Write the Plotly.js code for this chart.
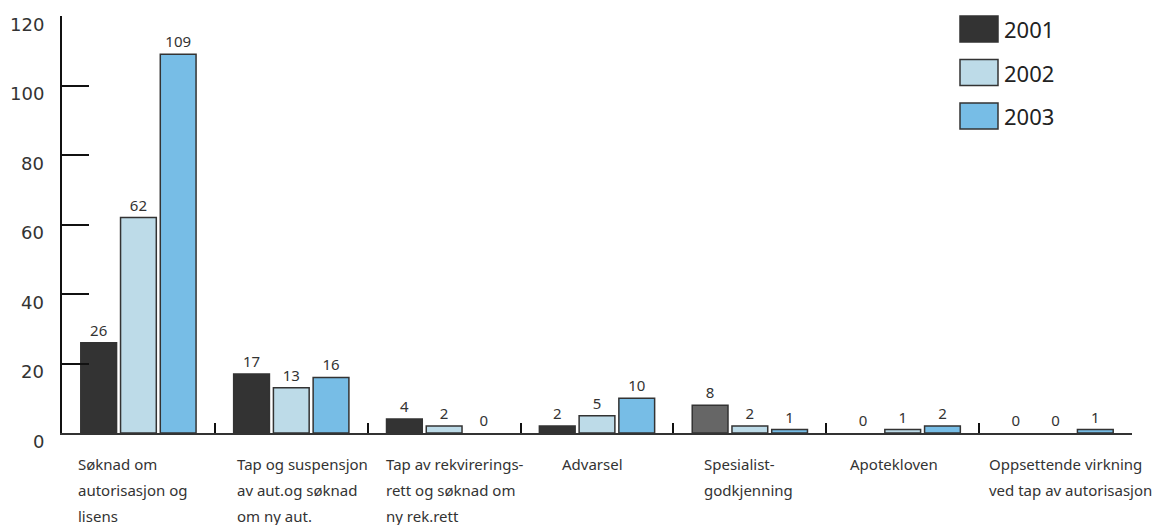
<!DOCTYPE html>
<html>
<head>
<meta charset="utf-8">
<script src="https://cdn.plot.ly/plotly-3.0.1.min.js"></script>
<style>html,body{margin:0;padding:0;background:#fff;}#chart{width:1153px;height:525px;}</style>
</head>
<body>
<div id="chart"></div>
<script>
// ---- data ----
const categories = [
  "Søknad om<br>autorisasjon og<br>lisens",
  "Tap og suspensjon<br>av aut.og søknad<br>om ny aut.",
  "Tap av rekvirerings-<br>rett og søknad om<br>ny rek.rett",
  "Advarsel",
  "Spesialist-<br>godkjenning",
  "Apotekloven",
  "Oppsettende virkning<br>ved tap av autorisasjon"
];
const seriesNames = ["2001", "2002", "2003"];
const values2001 = [26, 17, 4, 2, 8, 0, 0];
const values2002 = [62, 13, 2, 5, 2, 1, 0];
const values2003 = [109, 16, 0, 10, 1, 2, 1];
const yTicks = [0, 20, 40, 60, 80, 100, 120];

// ---- styling ----
const colors = ["#333333", "#bddbe8", "#77bde6"];
const color2001 = values2001.map((v, i) => i === 4 ? "#666666" : colors[0]);
const catIdx = categories.map((c, i) => i);
const allValues = [values2001, values2002, values2003];
const FONT = "Noto Sans, Open Sans, sans-serif";

const traces = allValues.map((vals, s) => ({
  type: "bar",
  name: seriesNames[s],
  x: catIdx,
  y: vals,
  text: vals.map(String),
  textposition: "outside",
  cliponaxis: false,
  textfont: {family: FONT, size: 15, color: "#333"},
  marker: {
    color: s === 0 ? color2001 : colors[s],
    line: {color: "#333", width: vals.map(v => v === 0 ? 0 : 1.5)}
  },
  showlegend: false,
  hoverinfo: "none"
}));

const annotations = [];
// y tick labels (placed slightly below the tick marks, as in the reference)
yTicks.forEach(t => {
  annotations.push({
    xref: "paper", yref: "y", x: 0, y: t, xanchor: "right", yanchor: "middle",
    xshift: -16, yshift: -8, text: String(t), showarrow: false,
    font: {family: "DejaVu Sans, Verdana, sans-serif", size: 18, color: "#333"}
  });
});

// category labels, left aligned, multi-line with wide line spacing
const labelShift = [-0.41, -0.37, -0.395, -0.24, -0.31, -0.36, -0.45];
categories.forEach((c, i) => {
  c.split("<br>").forEach((line, j) => {
    annotations.push({
      xref: "x", yref: "paper", x: i + labelShift[i], y: 0,
      xanchor: "left", yanchor: "middle", yshift: -(31 + 26 * j),
      text: line, showarrow: false,
      font: {family: FONT, size: 15, color: "#333"}
    });
  });
});

// legend drawn manually with large swatches
const shapes = [];
const plotH = 417, plotW = 1070;
seriesNames.forEach((n, s) => {
  const cy = 29 + 43.5 * s;
  const top = (433 - (cy - 13)) / plotH;
  const bot = (433 - (cy + 13)) / plotH;
  shapes.push({
    type: "rect", xref: "paper", yref: "paper",
    x0: (960 - 62) / plotW, x1: (998 - 62) / plotW, y0: bot, y1: top,
    fillcolor: colors[s], line: {color: "#333", width: 1.5}
  });
  annotations.push({
    xref: "paper", yref: "paper", x: (1002 - 62) / plotW, y: (433 - cy) / plotH,
    xanchor: "left", yanchor: "middle", text: n, showarrow: false,
    font: {family: FONT, size: 22, color: "#222"}
  });
});

const layout = {
  width: 1153, height: 525,
  margin: {l: 62, r: 21, t: 16, b: 92},
  paper_bgcolor: "#fff", plot_bgcolor: "#fff",
  barmode: "group", bargap: 0.22, bargroupgap: 0.1,
  xaxis: {
    type: "linear", range: [-0.5, 6.5],
    tickvals: [-0.5, 0.5, 1.5, 2.5, 3.5, 4.5, 5.5, 6.5],
    showticklabels: false,
    ticks: "inside", ticklen: 10, tickwidth: 2, tickcolor: "#111",
    showline: true, linecolor: "#333", linewidth: 2,
    showgrid: false, zeroline: false, fixedrange: true
  },
  yaxis: {
    range: [0, 120], tickvals: yTicks,
    ticks: "inside", ticklen: 27, tickwidth: 2, tickcolor: "#111",
    showline: true, linecolor: "#111", linewidth: 2,
    showgrid: false, zeroline: false, showticklabels: false,
    fixedrange: true
  },
  shapes: shapes,
  annotations: annotations,
  showlegend: false
};

Plotly.newPlot("chart", traces, layout, {displayModeBar: false, staticPlot: true});
</script>
</body>
</html>
